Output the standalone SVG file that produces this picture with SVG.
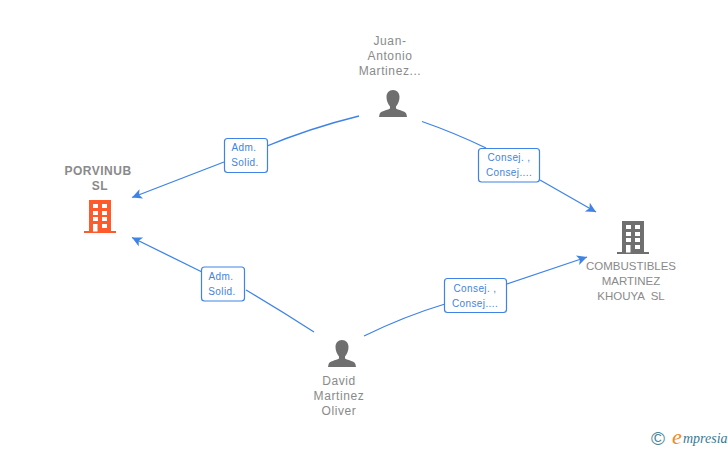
<svg xmlns="http://www.w3.org/2000/svg" width="728" height="450" viewBox="0 0 728 450">
<defs>
<style>
text{font-family:"Liberation Sans",Arial,sans-serif;text-anchor:middle;white-space:pre}
.n{font-size:12px;fill:#8a8a8a}
.p{letter-spacing:.6px}
.c{font-size:11.500px}
.b{font-weight:bold;letter-spacing:.5px}
.l{font-size:10px;fill:#3f83e0;letter-spacing:.4px}
.e{fill:none;stroke:#3f83e6;stroke-width:1.3}
.box{fill:#fff;stroke:#3f83e6;stroke-width:1.2}
.w{fill:#fff}
</style>
<marker id="a" markerUnits="userSpaceOnUse" markerWidth="12" markerHeight="12" refX="10" refY="5" orient="auto"><path d="M0 0L10 5L0 10L2.500 5Z" fill="#3f83e6"/></marker>
<path id="per" d="M14 0C18 0 20.500 3 20.500 7C20.500 11 19 14 17 16.500V18.500C20 20.500 27 21 27.500 24.500L28 27H0L.5 24.500C1 21 8 20.500 11 18.500V16.500C9 14 7.500 11 7.500 7C7.500 3 10 0 14 0Z"/>
<g id="bld"><path d="M5 0H27V31H32V33H0V31H5Z"/><g class="w"><rect x="9" y="4" width="5" height="4"/><rect x="18" y="4" width="5" height="4"/><rect x="9" y="11" width="5" height="4"/><rect x="18" y="11" width="5" height="4"/><rect x="9" y="17" width="5" height="4"/><rect x="18" y="17" width="5" height="4"/><rect x="9" y="24" width="4.500" height="7.500"/><rect x="18" y="24" width="5" height="4"/></g></g>
</defs>
<rect width="728" height="450" fill="#fff"/>
<g id="connectors">
<path class="e" d="M359 116Q310 128 262 148" />
<path class="e" d="M224 162L132 197.500" marker-end="url(#a)"/>
<path class="e" d="M422 121.500Q455 133 486 148"/>
<path class="e" d="M540 180L596 212" marker-end="url(#a)"/>
<path class="e" d="M314 332Q280 310 246 290"/>
<path class="e" d="M202 272L132 237.500" marker-end="url(#a)"/>
<path class="e" d="M364 336Q405 316 445 304"/>
<path class="e" d="M507 284L587 257" marker-end="url(#a)"/>
</g>
<g id="edge-label-1"><rect class="box" x="224.500" y="138.500" width="43" height="34" rx="3"/><text class="l" x="244" y="151">Adm.</text><text class="l" x="245" y="166">Solid.</text></g>
<g id="edge-label-2"><rect class="box" x="478.500" y="148.500" width="61" height="33.500" rx="3"/><text class="l" x="509" y="161">Consej. ,</text><text class="l" x="509" y="176">Consej....</text></g>
<g id="edge-label-3"><rect class="box" x="201.500" y="267" width="43" height="34" rx="3"/><text class="l" x="221" y="280">Adm.</text><text class="l" x="222" y="295">Solid.</text></g>
<g id="edge-label-4"><rect class="box" x="444.500" y="278.500" width="62" height="34" rx="3"/><text class="l" x="475" y="292">Consej. ,</text><text class="l" x="475" y="307">Consej....</text></g>
<g id="node-porvinub"><text class="n b" x="98" y="175">PORVINUB</text><text class="n b" x="100" y="190">SL</text><use href="#bld" x="84" y="200" fill="#ff5a2c"/></g>
<g id="node-juan"><text class="n p" x="390" y="45">Juan-</text><text class="n p" x="390" y="60">Antonio</text><text class="n p" x="390" y="75">Martinez...</text><use href="#per" x="379" y="90" fill="#6f6f6f"/></g>
<g id="node-david"><use href="#per" x="328" y="340" fill="#6f6f6f"/><text class="n p" x="339" y="385">David</text><text class="n p" x="339" y="400">Martinez</text><text class="n p" x="339" y="415">Oliver</text></g>
<g id="node-combustibles"><use href="#bld" x="617" y="221" fill="#6f6f6f"/><text class="n c" x="631" y="270">COMBUSTIBLES</text><text class="n c" x="631" y="285">MARTINEZ</text><text class="n c" x="631" y="300">KHOUYA  SL</text></g>
<g id="watermark"><text x="658" y="444.500" style="font-size:19px;fill:#4a8496">©</text><text x="677" y="444" style="font-family:'Liberation Serif',serif;font-style:italic;font-size:22px;fill:#f08a24">e</text><text x="683" y="443" style="font-family:'Liberation Serif',serif;font-style:italic;font-size:14px;fill:#3a7a90;text-anchor:start">mpresia</text></g>
</svg>
